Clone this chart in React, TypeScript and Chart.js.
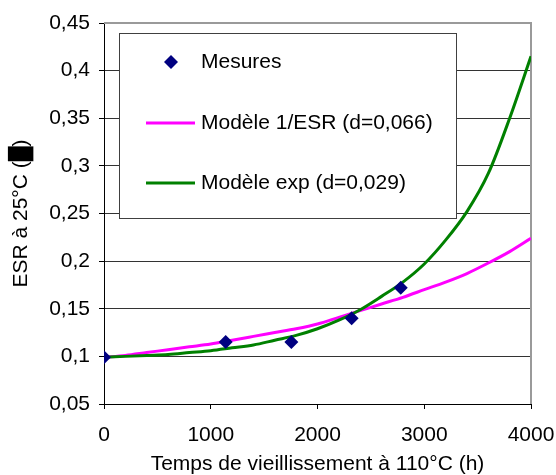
import React, { useEffect, useRef } from 'react';
import { Chart, registerables } from 'chart.js';

Chart.register(...registerables);

const measureHours = [0, 1140, 1755, 2320, 2780];
const measureEsr = [0.099, 0.115, 0.115, 0.14, 0.172];
const modelHours = [0, 200, 400, 600, 800, 1000, 1200, 1400, 1600, 1800, 2000, 2200, 2400, 2600, 2800, 3000, 3200, 3400, 3600, 3800, 4000];
const modelInvEsr = [0.099, 0.101, 0.104, 0.107, 0.11, 0.113, 0.117, 0.121, 0.125, 0.129, 0.134, 0.141, 0.148, 0.155, 0.162, 0.17, 0.178, 0.187, 0.198, 0.21, 0.224];
const modelExp = [0.099, 0.1, 0.101, 0.102, 0.104, 0.106, 0.109, 0.112, 0.117, 0.122, 0.129, 0.138, 0.149, 0.163, 0.178, 0.197, 0.222, 0.252, 0.292, 0.35, 0.415];
const xTickLabels = ['0', '1000', '2000', '3000', '4000'];
const yTickLabels = ['0,05', '0,1', '0,15', '0,2', '0,25', '0,3', '0,35', '0,4', '0,45'];
const seriesNames = ['Mesures', 'Modèle 1/ESR (d=0,066)', 'Modèle exp (d=0,029)'];
const xTitle = 'Temps de vieillissement à 110°C (h)';
const yTitle = 'ESR à 25°C (█)';

const FONT = "'Liberation Sans', Arial, sans-serif";
const NAVY = '#000080';
const MAGENTA = '#FF00FF';
const GREEN = '#008000';

const framePlugin = {
  id: 'frame',
  beforeDatasetsDraw(chart: any) {
    const { ctx, chartArea } = chart;
    ctx.save();
    ctx.strokeStyle = '#9a9a9a';
    ctx.lineWidth = 2;
    ctx.beginPath();
    ctx.moveTo(chartArea.left, chartArea.top);
    ctx.lineTo(chartArea.right, chartArea.top);
    ctx.lineTo(chartArea.right, chartArea.bottom);
    ctx.stroke();
    ctx.restore();
  },
};

const legendBoxPlugin = {
  id: 'legendBox',
  afterDatasetsDraw(chart: any) {
    const { ctx, chartArea } = chart;
    const x0 = chartArea.left + 15;
    const y0 = chartArea.top + 10;
    const w = 337;
    const h = 185;
    ctx.save();
    ctx.fillStyle = '#ffffff';
    ctx.fillRect(x0, y0, w, h);
    ctx.strokeStyle = '#404040';
    ctx.lineWidth = 1;
    ctx.strokeRect(Math.round(x0) + 0.5, Math.round(y0) + 0.5, w, h);

    const rows = [y0 + 29, y0 + 90, y0 + 150];
    const mx = x0 + 52;
    const r = 7;
    ctx.fillStyle = NAVY;
    ctx.beginPath();
    ctx.moveTo(mx - r, rows[0]);
    ctx.lineTo(mx, rows[0] - r);
    ctx.lineTo(mx + r, rows[0]);
    ctx.lineTo(mx, rows[0] + r);
    ctx.closePath();
    ctx.fill();
    ctx.lineWidth = 3;
    ctx.strokeStyle = MAGENTA;
    ctx.beginPath();
    ctx.moveTo(x0 + 27, rows[1]);
    ctx.lineTo(x0 + 76, rows[1]);
    ctx.stroke();
    ctx.strokeStyle = GREEN;
    ctx.beginPath();
    ctx.moveTo(x0 + 27, rows[2]);
    ctx.lineTo(x0 + 76, rows[2]);
    ctx.stroke();
    ctx.fillStyle = '#000';
    ctx.font = `21px ${FONT}`;
    ctx.textAlign = 'left';
    ctx.textBaseline = 'middle';
    ctx.fillText(seriesNames[0], x0 + 82, rows[0]);
    ctx.fillText(seriesNames[1], x0 + 82, rows[1]);
    ctx.fillText(seriesNames[2], x0 + 82, rows[2]);
    ctx.restore();
  },
};

export default function App() {
  const canvasRef = useRef<HTMLCanvasElement | null>(null);

  useEffect(() => {
    if (!canvasRef.current) return;
    const chart = new Chart(canvasRef.current, {
      type: 'scatter',
      data: {
        datasets: [
          {
            label: seriesNames[0],
            data: measureHours.map((x, i) => ({ x, y: measureEsr[i] })),
            pointStyle: 'rectRot',
            pointRadius: 7,
            pointBackgroundColor: NAVY,
            pointBorderColor: NAVY,
            pointBorderWidth: 0,
            showLine: false,
            order: 0,
          },
          {
            label: seriesNames[2],
            data: modelHours.map((x, i) => ({ x, y: modelExp[i] })),
            showLine: true,
            borderColor: GREEN,
            borderWidth: 3,
            pointRadius: 0,
            cubicInterpolationMode: 'monotone',
            order: 1,
          },
          {
            label: seriesNames[1],
            data: modelHours.map((x, i) => ({ x, y: modelInvEsr[i] })),
            showLine: true,
            borderColor: MAGENTA,
            borderWidth: 3,
            pointRadius: 0,
            cubicInterpolationMode: 'monotone',
            order: 2,
          },
        ],
      },
      options: {
        animation: false,
        responsive: false,
        devicePixelRatio: 1,
        layout: { padding: { top: 23, right: 25, left: 0, bottom: 0 } },
        plugins: {
          legend: { display: false },
          tooltip: { enabled: false },
        },
        scales: {
          x: {
            type: 'linear',
            min: 0,
            max: 4000,
            ticks: {
              stepSize: 1000,
              callback: (_v: any, i: number) => xTickLabels[i],
              font: { family: FONT, size: 21 },
              color: '#000',
              padding: 14,
              maxRotation: 0,
            },
            grid: {
              drawOnChartArea: false,
              drawTicks: true,
              tickLength: 5,
              tickColor: '#000',
            },
            border: { display: true, color: '#000', width: 1 },
            title: {
              display: true,
              text: xTitle,
              font: { family: FONT, size: 21 },
              color: '#000',
              padding: { top: 0, bottom: -2 },
            },
            afterFit: (s: any) => {
              s.height = 71;
              s.paddingLeft = 0;
              s.paddingRight = 0;
            },
          },
          y: {
            type: 'linear',
            min: 0.05,
            max: 0.45,
            ticks: {
              stepSize: 0.05,
              callback: (_v: any, i: number) => yTickLabels[i],
              font: { family: FONT, size: 21 },
              color: '#000',
              padding: 9,
            },
            grid: {
              color: (c: any) => (c.index === yTickLabels.length - 1 ? '#9a9a9a' : '#333333'),
              drawTicks: true,
              tickLength: 5,
              tickColor: '#000',
            },
            border: { display: true, color: '#000', width: 1 },
            title: {
              display: true,
              text: yTitle,
              font: { family: FONT, size: 21 },
              color: '#000',
              padding: { top: 9, bottom: 0 },
            },
            afterFit: (s: any) => {
              s.width = 104;
              s.paddingTop = 0;
              s.paddingBottom = 0;
            },
          },
        },
      },
      plugins: [framePlugin, legendBoxPlugin],
    } as any);
    return () => chart.destroy();
  }, []);

  return (
    <div style={{ position: 'absolute', left: 0, top: 0, width: 556, height: 475, background: '#fff' }}>
      <canvas ref={canvasRef} width={556} height={475} style={{ display: 'block' }} />
    </div>
  );
}
